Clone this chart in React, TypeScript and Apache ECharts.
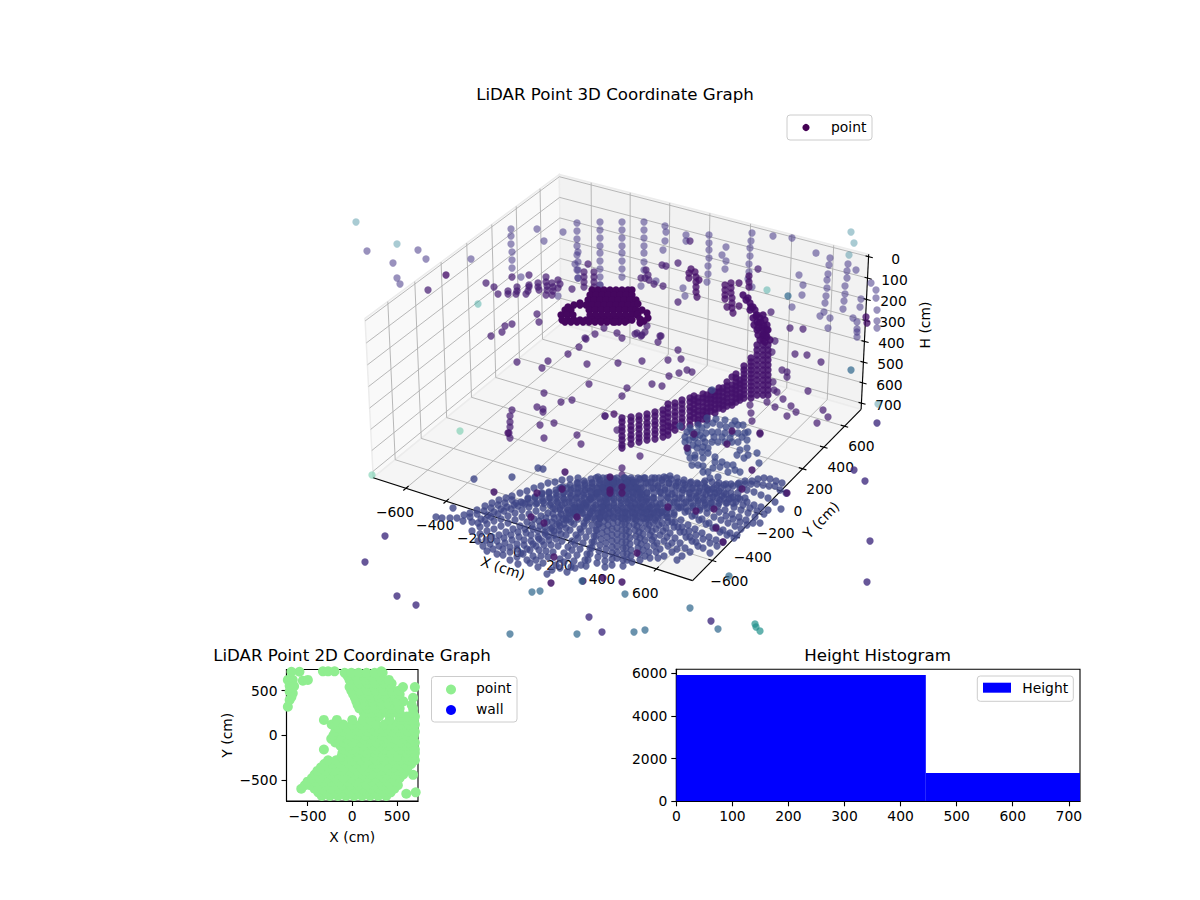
import { useEffect, useRef } from "react";
import * as echarts from "echarts";

// ticks of the 3D box
const xTicks = [-600, -400, -200, 0, 200, 400, 600];
const yTicks = [-600, -400, -200, 0, 200, 400, 600];
const hTicks = [0, 100, 200, 300, 400, 500, 600, 700];
const xLim = [-765, 765];
const yLim = [-765, 765];
const hLim = [-11, 730];

// 3D scatter: depth can't be recovered from the picture, so the points are
// kept as read on the view plane and go through the hidden viewX / viewY axes
const wallPoints = [
  [511, 229], [511, 236], [511, 244], [512, 252], [512, 260], [512, 268],
  [577, 223], [577, 231], [577, 239], [577, 246], [577, 255], [578, 262], [578, 270], [578, 278],
  [600, 222], [600, 230], [600, 238], [600, 246], [600, 253], [600, 261], [600, 269], [600, 277], [600, 285],
  [622, 222], [622, 230], [622, 238], [622, 246], [622, 253], [622, 261], [622, 269], [622, 277],
  [644, 222], [644, 230], [644, 238], [644, 246], [644, 253], [644, 262], [644, 270],
  [665, 226], [666, 232], [665, 241], [663, 250], [686, 235], [686, 241],
  [709, 235], [709, 243], [709, 250], [709, 258], [708, 266], [708, 274], [707, 282],
  [752, 233], [751, 241], [750, 248], [750, 256], [749, 264], [749, 272], [748, 279],
  [726, 247], [722, 255], [726, 261], [725, 269], [773, 236], [792, 238],
  [830, 258], [829, 265], [828, 274], [827, 280], [827, 288], [826, 296], [825, 303], [824, 312],
  [848, 264], [847, 271], [847, 278], [845, 286], [845, 294], [844, 301], [843, 309],
  [816, 253], [856, 270], [871, 283], [876, 290], [876, 298], [861, 299], [860, 307], [853, 318], [857, 322],
  [877, 310], [877, 321], [877, 328], [799, 275], [803, 285], [802, 295], [792, 307], [820, 316], [830, 318],
  [828, 328], [857, 329], [857, 332], [857, 337], [367, 251], [418, 250], [426, 259], [393, 263], [397, 278],
  [400, 284], [471, 259], [537, 229], [563, 232], [544, 241], [575, 264], [578, 252], [577, 270], [578, 278],
  [521, 277], [558, 296], [641, 286], [656, 281], [683, 288], [685, 296], [752, 287], [600, 285],
];
const midPoints = [
  [428, 290], [486, 283], [494, 287], [498, 294], [508, 291], [508, 294], [512, 277], [529, 275], [516, 294],
  [517, 287], [517, 291], [526, 294], [528, 291], [529, 285], [529, 287], [538, 283], [538, 287], [539, 290],
  [546, 277], [546, 282], [547, 286], [547, 290], [546, 295], [552, 283], [553, 287], [553, 291], [552, 295],
  [558, 280], [560, 284], [558, 288], [572, 289], [588, 264], [584, 272], [584, 277], [584, 282], [584, 287],
  [594, 272], [594, 277], [594, 282], [594, 287], [537, 314], [539, 322], [512, 324], [505, 326], [502, 332],
  [491, 336], [595, 334], [585, 338], [604, 328], [617, 333], [622, 338], [662, 265], [666, 266], [678, 263],
  [641, 278], [645, 278], [646, 270], [648, 275], [649, 280], [654, 284], [663, 286], [678, 302], [690, 241],
  [758, 269], [771, 312], [790, 328], [803, 329], [795, 354], [807, 355], [821, 362], [808, 391], [783, 399],
  [791, 406], [796, 412], [787, 416], [823, 410], [828, 417], [817, 423], [782, 370], [787, 372], [787, 377],
  [775, 341], [772, 352], [773, 382], [774, 390], [777, 392], [767, 402], [775, 407], [750, 405], [751, 413], [752, 421],
  [517, 362], [542, 368], [548, 361], [568, 354], [579, 347], [586, 339], [587, 364], [618, 363], [544, 393],
  [589, 384], [561, 402], [572, 400], [537, 407], [543, 409], [543, 412], [540, 425], [554, 423], [544, 438],
  [577, 435], [581, 444], [605, 416], [617, 430], [512, 410], [510, 416], [510, 422], [510, 427], [509, 433], [510, 438],
  [635, 334], [642, 335], [660, 336], [658, 342], [678, 350], [668, 360], [681, 359], [642, 361], [669, 376],
  [679, 373], [687, 370], [692, 372], [652, 384], [662, 386], [627, 388], [622, 396], [622, 468], [622, 475],
  [640, 456], [605, 416], [760, 434], [637, 333], [641, 336], [645, 332], [647, 326], [661, 336],
];
const darkStacks = [
  [691, 269], [689, 273], [689, 278], [695, 272], [696, 277], [696, 282], [696, 287], [696, 292], [697, 297], [699, 280],
  [725, 285], [725, 290], [725, 295], [725, 299], [731, 283], [731, 288], [731, 293], [732, 298], [732, 303], [732, 308],
  [733, 313], [727, 307], [739, 306], [739, 283], [749, 276], [749, 282], [749, 287], [446, 275], [866, 317], [867, 323],
  [614, 414], [671, 427], [508, 433],
];
const ribbonColumns: [number, number[]][] = [
  [622, [418, 422, 427, 431, 436, 440, 445, 448]],
  [631, [417, 421, 426, 430, 435, 439, 444]],
  [639, [416, 420, 425, 429, 434, 438, 442]],
  [647, [414, 418, 423, 427, 432, 436, 440]],
  [655, [412, 416, 421, 425, 430, 434, 439]],
  [663, [410, 414, 419, 423, 428, 432, 437]],
  [668, [404, 408, 413, 417, 422, 426, 431, 435]],
  [675, [403, 407, 412, 416, 421, 425, 430]],
  [682, [400, 404, 409, 413, 418, 422, 427]],
  [690, [398, 402, 407, 411, 416, 420, 425]],
  [694, [396, 400, 404, 409, 413, 418]],
  [698, [398, 402, 406, 411, 415, 420, 423]],
  [703, [394, 398, 402, 407, 411, 415, 419]],
  [707, [395, 399, 403, 408, 412, 416, 420]],
  [711, [391, 395, 399, 403, 407, 411]],
  [715, [392, 396, 400, 404, 409, 413]],
  [719, [388, 392, 396, 400, 404, 408]],
  [723, [388, 392, 397, 401, 405, 409]],
  [727, [382, 386, 390, 394, 398, 402, 406]],
  [732, [377, 385, 389, 393, 397, 402, 405]],
  [736, [374, 378, 382, 386, 390, 394, 398, 402]],
  [740, [380, 384, 388, 393, 397, 400]],
  [744, [366, 370, 374, 378, 382, 386, 390, 394, 398]],
  [751, [358, 362, 366, 370, 374, 378, 382, 386, 390, 394, 398]],
  [757, [345, 350, 355, 360, 365, 370, 375, 380, 385, 390, 395]],
  [763, [330, 335, 340, 345, 350, 355, 360, 365, 370, 375, 380, 385, 390, 395]],
  [768, [345, 350, 355, 360, 365, 370, 375, 380, 385, 390, 395]],
];
const ribbonTail = [
  [743, 295], [746, 300], [750, 303], [753, 307], [755, 310], [757, 315], [760, 318], [763, 315], [765, 320], [759, 323],
  [767, 325], [762, 328], [757, 330], [767, 330], [763, 335], [758, 335], [767, 337], [748, 298], [751, 307], [756, 316],
  [750, 310], [757, 322], [753, 318], [761, 322], [764, 326], [754, 325], [758, 328], [766, 335], [760, 340], [765, 342],
  [768, 330], [770, 340],
];
const blobRows: [number, number[]][] = [
  [290, [592, 598, 604, 610, 616, 622, 628, 632]],
  [295, [590, 596, 602, 608, 614, 620, 626, 632]],
  [300, [588, 594, 600, 606, 612, 618, 624, 630, 636]],
  [305, [574, 580, 586, 592, 598, 604, 610, 616, 622, 628, 634]],
  [310, [565, 571, 589, 595, 601, 607, 613, 619, 625, 631, 636]],
  [315, [561, 567, 573, 590, 596, 602, 608, 614, 620, 626, 632, 637]],
  [320, [562, 568, 574, 580, 586, 592, 598, 604, 610, 616, 622, 628, 632]],
  [322, [565, 571, 577, 583, 589, 595, 601, 607, 613, 619, 625]],
];
const blobExtras = [
  [638, 314], [642, 310], [647, 313], [648, 318], [644, 321], [640, 319], [640, 323], [638, 304], [615, 322], [580, 303], [568, 307],
];
const fanRays = [
  [[436, 517], [442, 518], [450, 518], [457, 518], [464, 515], [470, 513], [477, 510], [485, 506], [492, 503], [499, 500], [506, 498], [512, 496], [520, 493], [527, 491], [534, 488], [541, 486], [548, 483], [555, 482], [562, 480], [570, 479], [578, 478]],
  [[481, 519], [488, 515], [494, 512], [501, 509], [507, 507], [514, 505], [521, 502], [528, 499], [535, 497], [542, 494], [549, 492], [556, 490], [563, 487], [570, 485], [577, 483], [584, 481], [591, 479], [598, 477]],
  [[480, 527], [487, 524], [494, 521], [501, 519], [508, 516], [515, 513], [522, 510], [529, 507], [536, 504], [543, 501], [550, 498], [557, 496], [564, 493], [571, 490], [578, 488], [585, 485], [592, 483], [600, 480], [607, 478]],
  [[472, 531], [480, 534], [487, 531], [494, 529], [501, 526], [508, 523], [515, 520], [522, 517], [529, 514], [536, 511], [543, 508], [550, 505], [557, 502], [564, 499], [571, 496], [578, 493], [585, 490], [592, 487], [600, 484], [607, 482], [614, 479]],
  [[478, 541], [486, 540], [492, 537], [499, 535], [506, 532], [513, 529], [520, 526], [527, 522], [534, 519], [541, 516], [548, 513], [555, 509], [562, 505], [569, 502], [576, 498], [583, 495], [590, 491], [597, 488], [604, 485], [611, 482]],
  [[487, 551], [493, 549], [499, 546], [505, 543], [512, 540], [519, 537], [526, 533], [533, 529], [540, 526], [547, 522], [554, 518], [561, 514], [568, 510], [575, 505], [582, 501], [589, 497], [596, 493], [603, 488], [610, 485]],
  [[497, 554], [503, 555], [510, 552], [517, 549], [524, 545], [531, 541], [538, 537], [545, 532], [552, 528], [559, 523], [566, 518], [573, 513], [580, 508], [587, 503], [594, 497], [601, 492], [608, 487], [614, 483]],
  [[510, 560], [517, 557], [523, 554], [530, 550], [536, 546], [542, 541], [548, 536], [554, 531], [560, 526], [566, 520], [572, 515], [578, 510], [584, 504], [590, 499], [596, 494], [602, 489], [608, 484]],
  [[518, 564], [530, 563], [536, 560], [541, 556], [546, 551], [551, 545], [556, 539], [561, 534], [566, 528], [571, 522], [576, 516], [581, 510], [586, 505], [591, 499], [597, 493], [603, 488], [610, 483]],
  [[538, 567], [547, 574], [552, 570], [556, 565], [560, 559], [564, 553], [568, 547], [572, 541], [576, 535], [580, 529], [584, 523], [588, 517], [592, 511], [596, 505], [600, 499], [604, 493], [608, 488], [612, 483]],
  [[567, 572], [571, 567], [574, 561], [577, 555], [580, 549], [583, 543], [586, 537], [589, 531], [592, 525], [595, 519], [598, 513], [601, 507], [604, 501], [607, 495], [610, 489], [613, 484]],
  [[575, 568], [581, 565], [585, 560], [587, 554], [590, 548], [592, 542], [594, 536], [596, 530], [598, 524], [600, 518], [602, 512], [604, 506], [606, 500], [608, 494], [611, 488], [614, 482]],
  [[597, 563], [598, 557], [599, 551], [600, 545], [601, 539], [602, 533], [603, 527], [604, 521], [605, 515], [606, 509], [607, 503], [609, 497], [611, 491], [613, 485]],
  [[612, 565], [612, 559], [612, 553], [612, 547], [612, 541], [612, 535], [612, 529], [613, 523], [613, 517], [613, 511], [614, 505], [614, 499], [615, 493], [616, 487], [617, 481]],
  [[623, 566], [623, 560], [623, 554], [623, 548], [622, 542], [622, 536], [622, 530], [622, 524], [622, 518], [622, 512], [621, 506], [621, 500], [621, 494], [621, 488], [621, 482]],
  [[632, 562], [631, 556], [631, 550], [630, 544], [630, 538], [629, 532], [629, 526], [628, 520], [628, 514], [627, 508], [627, 502], [626, 496], [625, 490], [625, 484], [625, 478]],
  [[640, 560], [639, 554], [638, 548], [637, 542], [636, 536], [635, 530], [634, 524], [633, 518], [632, 512], [631, 506], [630, 500], [629, 494], [628, 488], [627, 482]],
  [[650, 558], [649, 552], [647, 546], [645, 540], [643, 534], [642, 528], [640, 522], [638, 516], [637, 510], [635, 504], [633, 498], [632, 492], [630, 486], [628, 480]],
  [[658, 558], [656, 552], [654, 546], [652, 540], [650, 535], [648, 529], [646, 523], [644, 518], [642, 512], [640, 506], [638, 500], [636, 494], [634, 488], [632, 482]],
  [[677, 560], [672, 552], [668, 546], [664, 541], [660, 535], [656, 529], [653, 523], [650, 517], [647, 511], [644, 505], [641, 499], [638, 493], [635, 487], [632, 480]],
  [[690, 552], [685, 548], [680, 543], [675, 538], [670, 533], [666, 528], [662, 523], [658, 518], [654, 513], [650, 507], [646, 501], [642, 495], [638, 489], [634, 483]],
  [[710, 553], [698, 546], [692, 541], [686, 537], [680, 532], [674, 527], [668, 522], [662, 516], [657, 511], [652, 505], [647, 499], [642, 494], [637, 488]],
  [[723, 542], [716, 540], [709, 537], [702, 533], [695, 529], [688, 525], [681, 520], [674, 515], [667, 510], [660, 504], [653, 498], [647, 493], [641, 488], [636, 482]],
  [[737, 535], [730, 533], [723, 530], [716, 527], [709, 523], [702, 519], [695, 515], [688, 511], [681, 507], [674, 502], [667, 497], [660, 492], [653, 488], [646, 483], [640, 479]],
  [[741, 529], [735, 526], [728, 523], [721, 520], [714, 517], [707, 513], [700, 510], [693, 506], [686, 502], [679, 498], [672, 494], [665, 490], [658, 486], [651, 482], [644, 478]],
  [[753, 523], [746, 520], [739, 517], [732, 514], [725, 510], [718, 506], [711, 503], [704, 500], [697, 496], [690, 493], [683, 490], [676, 486], [669, 483], [662, 480], [655, 478]],
  [[760, 523], [755, 517], [748, 513], [741, 510], [734, 507], [727, 503], [720, 500], [713, 497], [706, 494], [699, 491], [692, 488], [685, 485], [678, 482], [671, 479], [664, 477]],
  [[768, 510], [761, 507], [754, 505], [747, 502], [740, 499], [733, 497], [726, 494], [719, 491], [712, 489], [705, 487], [698, 484], [691, 482], [684, 480], [677, 478], [670, 476]],
  [[781, 509], [775, 502], [768, 498], [761, 495], [754, 492], [747, 490], [740, 488], [733, 486], [726, 484], [719, 483], [712, 482], [705, 481]],
  [[786, 493], [780, 490], [775, 486], [769, 486], [763, 485], [757, 484], [751, 484], [745, 484], [739, 483]],
  [[782, 483], [776, 481], [770, 479], [764, 478], [758, 479], [752, 481], [745, 481], [738, 484], [731, 484], [724, 485], [717, 485]],
  [[453, 508], [474, 479], [512, 477], [538, 468], [543, 469], [561, 488]],
];
// the rays between the ones above, only seen from the middle of the fan outward
const fanMidRays = [
  [[483, 546], [490, 544], [497, 541], [504, 538], [511, 535], [518, 532], [525, 529], [532, 525], [539, 521], [546, 518], [553, 514], [560, 510]],
  [[503, 549], [510, 547], [517, 544], [524, 540], [531, 535], [538, 531], [545, 527], [552, 522], [559, 517], [566, 513], [573, 508]],
  [[521, 553], [527, 549], [533, 544], [539, 539], [545, 534], [551, 529], [557, 524], [563, 519], [569, 513], [575, 508]],
  [[527, 560], [533, 556], [539, 550], [544, 545], [549, 540], [554, 535], [559, 530], [564, 524], [569, 519], [574, 513], [579, 507]],
  [[543, 563], [548, 557], [553, 552], [558, 546], [562, 541], [566, 535], [570, 530], [574, 524], [578, 519], [582, 513], [586, 507]],
  [[560, 568], [564, 562], [568, 556], [572, 550], [575, 544], [578, 538], [581, 532], [584, 526], [587, 520], [590, 514], [593, 508]],
  [[586, 566], [588, 560], [590, 554], [592, 548], [594, 542], [596, 536], [597, 530], [599, 524], [600, 518], [601, 512], [603, 506]],
  [[605, 567], [605, 561], [605, 555], [606, 549], [606, 543], [607, 537], [607, 531], [608, 525], [608, 519], [609, 513], [609, 507]],
  [[617, 558], [617, 552], [617, 546], [617, 540], [617, 534], [617, 528], [618, 522], [618, 516], [618, 510]],
  [[627, 560], [627, 554], [626, 548], [626, 542], [626, 536], [626, 530], [625, 524], [625, 518], [625, 512]],
  [[645, 556], [643, 550], [641, 544], [640, 538], [639, 532], [637, 526], [636, 520], [635, 514], [633, 508]],
  [[664, 556], [660, 549], [657, 543], [654, 537], [652, 531], [649, 525], [647, 519], [644, 513], [641, 507]],
  [[682, 556], [677, 549], [672, 543], [667, 537], [663, 531], [659, 525], [655, 520], [651, 514], [648, 509]],
  [[703, 548], [696, 542], [690, 537], [684, 532], [678, 527], [672, 522], [667, 517], [662, 512], [657, 507]],
  [[717, 546], [710, 543], [703, 539], [696, 535], [689, 531], [682, 527], [675, 522], [668, 517], [662, 512]],
  [[734, 538], [727, 535], [720, 532], [713, 528], [706, 524], [699, 520], [692, 516], [685, 512], [678, 507]],
  [[747, 525], [740, 522], [733, 519], [726, 516], [719, 512], [712, 508], [705, 505], [698, 501], [691, 498]],
  [[764, 514], [757, 511], [750, 508], [743, 505], [736, 502], [729, 499], [722, 496], [715, 493], [708, 490]],
  [[472, 522], [478, 523], [485, 520], [491, 517], [498, 514], [504, 511], [511, 509], [518, 506], [525, 504]],
  [[463, 521], [470, 517], [477, 514], [484, 511], [491, 508], [498, 505], [505, 503], [512, 500]],
];
const fanCrownRows: [number, number[]][] = [
  [478, [596, 603, 610, 617, 624, 631, 638, 645, 652, 659, 666]],
  [483, [578, 585, 592, 599, 606, 613, 620, 627, 634, 641, 648, 655, 662, 669, 676, 683, 690, 697, 704]],
  [488, [560, 567, 574, 581, 588, 595, 602, 609, 616, 623, 630, 637, 644, 651, 658, 665, 672, 679, 686, 693, 700, 707, 714, 721, 728]],
  [493, [542, 549, 556, 563, 570, 577, 584, 591, 598, 605, 612, 619, 626, 633, 640, 647, 654, 661, 668, 675, 682, 689, 696, 703, 710, 717, 724, 731, 738]],
  [498, [528, 535, 542, 549, 556, 563, 570, 577, 584, 591, 598, 605, 612, 619, 626, 633, 640, 647, 654, 661, 668, 675, 682, 689, 696, 703, 710, 717, 724, 731, 738, 745]],
  [503, [516, 523, 530, 537, 544, 551, 558, 565, 572, 579, 586, 593, 600, 607, 614, 621, 628, 635, 642, 649, 656, 663, 670, 677, 684, 691, 698, 705, 712, 719, 726, 733]],
  [508, [553, 560, 567, 574, 581, 588, 595, 602, 609, 616, 623, 630, 637, 644, 651, 658, 665, 672, 679, 686, 693, 700, 707]],
  [513, [576, 583, 590, 597, 604, 611, 618, 625, 632, 639, 646, 653, 660, 667, 674]],
  [518, [586, 593, 600, 607, 614, 621, 628, 635, 642, 649, 656]],
];
const coilPoints = [
  [685, 437], [687, 432], [692, 432], [697, 432], [702, 428], [707, 425], [713, 423], [720, 425], [726, 427], [732, 425], [738, 425], [743, 425],
  [685, 442], [689, 440], [695, 438], [700, 435], [706, 433], [712, 432], [718, 432], [725, 433], [732, 433], [738, 433], [745, 433], [748, 432],
  [688, 448], [693, 445], [698, 443], [705, 442], [712, 442], [718, 442], [725, 442], [732, 442], [738, 442], [747, 440],
  [688, 452], [695, 455], [702, 452], [708, 453], [715, 457], [697, 448], [703, 447],
  [740, 450], [747, 448], [748, 455], [744, 458], [737, 455], [757, 453], [759, 463],
  [692, 465], [698, 465], [703, 472], [708, 472], [713, 468], [715, 462], [722, 462], [727, 465], [733, 465], [740, 472],
  [728, 472], [710, 478], [718, 477], [690, 458], [695, 458], [680, 426], [712, 390], [690, 428], [698, 425], [707, 418],
  [716, 419], [725, 420], [735, 421], [693, 437], [703, 438], [714, 437], [722, 437], [730, 438], [742, 437], [708, 448],
  [703, 458], [720, 467], [735, 470], [703, 466],
];
const fanDarkPoints = [
  [565, 472], [494, 492], [562, 489], [537, 493], [531, 517], [544, 523], [577, 517], [554, 557], [610, 477], [622, 487],
  [610, 490], [610, 493], [622, 493], [668, 507], [696, 511], [714, 509], [716, 528], [723, 542], [637, 553], [551, 583],
  [583, 581], [603, 578], [622, 582], [742, 489], [787, 493], [694, 434], [732, 431], [687, 448], [727, 444], [760, 433], [752, 470],
];
const nearPoints = [
  [385, 536], [365, 562], [397, 596], [416, 605], [589, 617], [602, 632], [711, 621], [870, 541], [867, 582], [854, 470], [865, 481], [877, 423],
];
const bluePoints = [
  [532, 592], [540, 591], [510, 634], [577, 634], [582, 581], [625, 594], [690, 608], [718, 629], [634, 632], [645, 630], [729, 576], [851, 370], [788, 296],
];
const tealPoints = [[755, 624], [756, 627], [760, 631]];
const paleBluePoints = [[356, 222], [851, 232], [854, 243], [849, 255], [397, 244], [878, 404]];
const paleTealPoints = [[478, 304], [767, 290], [618, 295]];
const mintPoints = [[460, 431], [372, 475]];

// 2D scatter in cm, by row of Y
const floorRows: [number, number[]][] = [
  [-680, [-340, -250, -160, -70, 20, 110, 200, 290, 380]],
  [-640, [-380, -290, -200, -110, -20, 70, 160, 250, 340, 430]],
  [-600, [-570, -420, -330, -240, -150, -60, 30, 120, 210, 300, 390, 470]],
  [-560, [-530, -470, -380, -290, -200, -110, -20, 70, 160, 250, 340, 430, 510]],
  [-520, [-500, -410, -320, -230, -140, -50, 40, 130, 220, 310, 400, 490]],
  [-480, [-450, -370, -280, -190, -100, -10, 80, 170, 260, 350, 440, 530]],
  [-440, [-420, -330, -240, -150, -60, 30, 120, 210, 300, 390, 480, 570]],
  [-400, [-390, -300, -210, -120, -30, 60, 150, 240, 330, 420, 510, 600]],
  [-360, [-350, -260, -170, -80, 10, 100, 190, 280, 370, 460, 550, 620]],
  [-320, [-310, -220, -130, -40, 50, 140, 230, 320, 410, 500, 590, 660]],
  [-280, [-270, -180, -90, 0, 90, 180, 270, 360, 450, 540, 630, 700]],
  [-240, [-120, -30, 60, 150, 240, 330, 420, 510, 600, 690]],
  [-200, [-110, -20, 70, 160, 250, 340, 430, 520, 610, 700]],
  [-160, [-317, -90, 0, 90, 180, 270, 360, 450, 540, 630, 700]],
  [-120, [-130, -40, 50, 140, 230, 320, 410, 500, 590, 680]],
  [-80, [-190, -90, 0, 90, 180, 270, 360, 450, 540, 630, 700]],
  [-40, [-235, -145, -55, 35, 125, 215, 305, 395, 485, 575, 665]],
  [0, [-210, -120, -30, 60, 150, 240, 330, 420, 510, 600, 690]],
  [40, [-190, -100, -10, 80, 170, 260, 350, 440, 530, 620, 700]],
  [80, [-150, -60, 30, 120, 210, 300, 390, 480, 570, 660]],
  [120, [-230, -100, 0, 90, 180, 270, 360, 450, 540, 630, 700]],
  [172, [-317, -172, 0, 120, 200, 418, 530, 620, 690]],
  [210, [230, 300, 530, 610, 700]],
  [250, [130, 210, 305, 380, 450, 530, 680]],
  [300, [80, 170, 260, 350, 440, 530, 680]],
  [340, [60, 150, 240, 330, 420, 510, 664]],
  [380, [45, 135, 225, 315, 405, 495, 570]],
  [420, [30, 120, 210, 300, 390, 480, 680]],
  [460, [10, 100, 190, 280, 370, 460, 530]],
  [500, [-10, 80, 170, 260, 350, 440, 520]],
  [540, [-30, 60, 150, 240, 330, 430, 567, 700]],
  [580, [-10, 80, 170, 260, 350, 440]],
  [620, [-30, 60, 150, 240, 330, 410]],
  [660, [-50, 40, 130, 220, 310]],
  [700, [-85, -10, 70, 160, 250, 340]],
  [716, [-328, -270, -198, 325]],
];
const floorLeft = [
  [-720, 620], [-665, 620], [-700, 555], [-650, 550], [-700, 490], [-665, 470], [-700, 395], [-720, 320], [-552, 612],
  [-496, 620], [-590, 712], [-680, 712], [-740, 300], [-680, 430],
];
const floorRight = [[680, -444], [604, -656], [709, -640]];
const floorTicks = [-500, 0, 500];

// histogram of heights
const histEdges = [0, 445, 720];
const histCounts = [5920, 1327];
const histXTicks = [0, 100, 200, 300, 400, 500, 600, 700];
const histYTicks = [0, 2000, 4000, 6000];

const FONT = "DejaVu Sans";
const TICK_FONT = `13.89px "${FONT}"`;
const minus = (v: number | string) => String(v).replace("-", "\u2212");

const expand = (cols: [number, number[]][]) => cols.flatMap(([x, ys]) => ys.map((y) => [x, y]));
const expandRows = (rows: [number, number[]][]) => rows.flatMap(([y, xs]) => xs.map((x) => [x, y]));

// matplotlib camera, elev 30 azim -60, box 2:2:1
const HALF_XY = 0.6352;
const HALF_H = 0.3176;
function project(x: number, y: number, h: number) {
  const qx = (HALF_XY * (2 * (x - xLim[0]))) / (xLim[1] - xLim[0]) - HALF_XY;
  const qy = (HALF_XY * (2 * (y - yLim[0]))) / (yLim[1] - yLim[0]) - HALF_XY;
  const qz = HALF_H - (HALF_H * (2 * (h - hLim[0]))) / (hLim[1] - hLim[0]);
  const xv = 0.866 * qx + 0.5 * qy;
  const yv = -0.25 * qx + 0.433 * qy + 0.866 * qz;
  const depth = 10 - (0.433 * qx - 0.75 * qy + 0.5 * qz);
  return [622 + (2855 * xv) / depth, 365.5 - (2855 * yv) / depth];
}

const [x0, x1] = xLim;
const [y0, y1] = yLim;
const [hTop, hBottom] = hLim;

const panes = [
  { fill: "#f9f9f9", pts: [project(x0, y0, hBottom), project(x0, y1, hBottom), project(x0, y1, hTop), project(x0, y0, hTop)] },
  { fill: "#f2f2f2", pts: [project(x0, y1, hBottom), project(x1, y1, hBottom), project(x1, y1, hTop), project(x0, y1, hTop)] },
  { fill: "#f5f5f5", pts: [project(x0, y0, hBottom), project(x1, y0, hBottom), project(x1, y1, hBottom), project(x0, y1, hBottom)] },
];

const seg = (a: number[], b: number[]) => [a[0], a[1], b[0], b[1]];
const gridSegments = [
  ...xTicks.flatMap((t) => [seg(project(t, y0, hBottom), project(t, y1, hBottom)), seg(project(t, y1, hBottom), project(t, y1, hTop))]),
  ...yTicks.flatMap((t) => [seg(project(x1, t, hBottom), project(x0, t, hBottom)), seg(project(x0, t, hBottom), project(x0, t, hTop))]),
  ...hTicks.flatMap((t) => [seg(project(x0, y0, t), project(x0, y1, t)), seg(project(x0, y1, t), project(x1, y1, t))]),
];
const axisSegments = [
  seg(project(x0, y0, hBottom), project(x1, y0, hBottom)),
  seg(project(x1, y0, hBottom), project(x1, y1, hBottom)),
  seg(project(x1, y1, hBottom), project(x1, y1, hTop)),
  ...xTicks.map((t) => seg(project(t, y0 + 20, hBottom), project(t, y0 - 20, hBottom))),
  ...yTicks.map((t) => seg(project(x1 - 18, t, hBottom), project(x1 + 18, t, hBottom))),
  ...hTicks.map((t) => seg(project(x1 - 14, y1, t), project(x1 + 20, y1, t))),
];

const offset = (p: number[], dx: number, dy: number) => [p[0] + dx, p[1] + dy];
const boxTexts = [
  ...xTicks.map((t) => ({ at: offset(project(t, y0, hBottom), -11, 24), text: minus(t), rot: 0 })),
  ...yTicks.map((t) => ({ at: offset(project(x1, t, hBottom), 17, 20), text: minus(t), rot: 0 })),
  ...hTicks.map((t) => ({ at: offset(project(x1, y1, t), 27, 2), text: minus(t), rot: 0 })),
  { at: [503, 568], text: "X (cm)", rot: -0.32 },
  { at: [821, 520], text: "Y (cm)", rot: 0.8 },
  { at: [925, 325], text: "H (cm)", rot: Math.PI / 2 },
];

const VIEW = { xAxisIndex: 0, yAxisIndex: 0, coordinateSystem: "cartesian2d", silent: true };

function dots(data: number[][], fill: string, z = 3) {
  return {
    ...VIEW,
    type: "scatter",
    name: "point",
    data,
    z,
    clip: true,
    symbolSize: 7.3,
    itemStyle: { color: fill, borderWidth: 0, opacity: 1 },
  };
}

function buildOption() {
  const lineSeries = (rows: number[][], stroke: string, lineWidth: number, z: number) => ({
    ...VIEW,
    type: "custom",
    z,
    data: rows,
    renderItem: (_: unknown, api: any) => {
      const a = api.coord([api.value(0), api.value(1)]);
      const b = api.coord([api.value(2), api.value(3)]);
      return { type: "line", shape: { x1: a[0], y1: a[1], x2: b[0], y2: b[1] }, style: { stroke, lineWidth, fill: "none" } };
    },
  });

  const frame = { show: true, borderColor: "#000", borderWidth: 1.1, containLabel: false };
  const cm = { color: "#000", fontFamily: FONT, fontSize: 13.89 };
  const titleStyle = { fontFamily: FONT, fontSize: 16.67, fontWeight: "normal", color: "#000" };

  const legendBox = (x: number, y: number, width: number, height: number) => ({
    type: "rect",
    shape: { x, y, width, height, r: 3 },
    style: { fill: "rgba(255,255,255,0.8)", stroke: "#ccc", lineWidth: 1 },
    z: 50,
  });
  const legendText = (x: number, y: number, text: string) => ({
    type: "text",
    x,
    y,
    style: { text, font: TICK_FONT, fill: "#000", align: "left", verticalAlign: "middle" },
    z: 51,
  });
  const legendDot = (cx: number, cy: number, r: number, fill: string) => ({
    type: "circle",
    shape: { cx, cy, r },
    style: { fill },
    z: 51,
  });

  return {
    animation: false,
    textStyle: { fontFamily: FONT },
    title: [
      { text: "LiDAR Point 3D Coordinate Graph", left: 615, top: 86, textAlign: "center", padding: 0, textStyle: titleStyle },
      { text: "LiDAR Point 2D Coordinate Graph", left: 352, top: 647, textAlign: "center", padding: 0, textStyle: titleStyle },
      { text: "Height Histogram", left: 877.5, top: 647, textAlign: "center", padding: 0, textStyle: titleStyle },
    ],
    grid: [
      { left: 0, top: 0, width: 1200, height: 636 },
      { left: 286.5, top: 669.5, width: 131.5, height: 131.5, ...frame },
      { left: 676.3, top: 669.3, width: 403.7, height: 132, ...frame },
    ],
    xAxis: [
      { gridIndex: 0, type: "value", name: "viewX", min: 0, max: 1200, show: false },
      {
        gridIndex: 1,
        type: "value",
        min: -735,
        max: 735,
        name: "X (cm)",
        nameLocation: "middle",
        nameGap: 29,
        nameTextStyle: cm,
        splitLine: { show: false },
        axisLine: { onZero: false, lineStyle: { color: "#000", width: 1.1 } },
        axisTick: { length: 5, customValues: floorTicks, lineStyle: { color: "#000", width: 1.1 } },
        axisLabel: { ...cm, margin: 8, customValues: floorTicks, formatter: (v: number) => minus(v) },
      },
      {
        gridIndex: 2,
        type: "value",
        min: histEdges[0],
        max: histEdges[2],
        splitLine: { show: false },
        axisLine: { onZero: false, lineStyle: { color: "#000", width: 1.1 } },
        axisTick: { length: 5, customValues: histXTicks, lineStyle: { color: "#000", width: 1.1 } },
        axisLabel: { ...cm, margin: 8, customValues: histXTicks, formatter: (v: number) => String(v) },
      },
    ],
    yAxis: [
      { gridIndex: 0, type: "value", name: "viewY", min: 0, max: 636, inverse: true, show: false },
      {
        gridIndex: 1,
        type: "value",
        min: -737,
        max: 737,
        name: "Y (cm)",
        nameLocation: "middle",
        nameGap: 53,
        nameTextStyle: cm,
        splitLine: { show: false },
        axisLine: { onZero: false, lineStyle: { color: "#000", width: 1.1 } },
        axisTick: { length: 5, customValues: floorTicks, lineStyle: { color: "#000", width: 1.1 } },
        axisLabel: { ...cm, margin: 9, customValues: floorTicks, formatter: (v: number) => minus(v) },
      },
      {
        gridIndex: 2,
        type: "value",
        min: 0,
        max: 6187,
        splitLine: { show: false },
        axisLine: { onZero: false, lineStyle: { color: "#000", width: 1.1 } },
        axisTick: { length: 5, customValues: histYTicks, lineStyle: { color: "#000", width: 1.1 } },
        axisLabel: { ...cm, margin: 9, customValues: histYTicks, formatter: (v: number) => String(v) },
      },
    ],
    graphic: [
      legendBox(787, 115, 85, 25),
      legendDot(806, 127.5, 3.6, "#440154"),
      legendText(831, 127, "point"),
      legendBox(431.5, 676.5, 85.5, 45.5),
      legendDot(451, 689.5, 5, "#90ee90"),
      legendDot(451, 710, 5, "#0000ff"),
      legendText(476, 688, "point"),
      legendText(476, 708.5, "wall"),
      legendBox(977.3, 676, 96, 25.3),
      { type: "rect", shape: { x: 983, y: 682.7, width: 28, height: 10 }, style: { fill: "#0000ff" }, z: 51 },
      legendText(1022.3, 688, "Height"),
    ],
    series: [
      {
        ...VIEW,
        type: "custom",
        z: 1,
        data: panes.map((_, i) => [i]),
        encode: { x: 0 },
        renderItem: (params: any, api: any) => {
          const pane = panes[params.dataIndex];
          return {
            type: "polygon",
            shape: { points: pane.pts.map((p) => api.coord(p)) },
            style: { fill: pane.fill, stroke: "#ececec", lineWidth: 1.5 },
          };
        },
      },
      lineSeries(gridSegments, "#b0b0b0", 0.9, 1),
      lineSeries(axisSegments, "#000", 1.1, 2),
      {
        ...VIEW,
        type: "custom",
        z: 2,
        data: boxTexts.map((_, i) => [i]),
        encode: { x: 0 },
        renderItem: (params: any, api: any) => {
          const t = boxTexts[params.dataIndex];
          const p = api.coord(t.at);
          return {
            type: "text",
            x: p[0],
            y: p[1],
            rotation: t.rot,
            style: { text: t.text, font: TICK_FONT, fill: "#000", align: "center", verticalAlign: "middle" },
          };
        },
      },
      dots(mintPoints, "rgba(60,185,140,0.42)"),
      dots(paleTealPoints, "rgba(40,160,150,0.42)"),
      dots(paleBluePoints, "rgba(50,130,150,0.42)"),
      dots(wallPoints, "rgba(70,55,135,0.55)"),
      dots(midPoints, "rgba(72,30,115,0.72)"),
      dots(darkStacks, "rgba(70,15,105,0.78)"),
      dots(expand(ribbonColumns), "rgba(68,18,108,0.88)"),
      dots(ribbonTail, "rgba(68,12,105,0.9)"),
      dots([...expandRows(blobRows), ...blobExtras], "#45075f"),
      dots(coilPoints, "rgba(62,73,137,0.78)"),
      dots([...fanRays.flat(), ...fanMidRays.flat(), ...expandRows(fanCrownRows)], "rgba(62,70,135,0.8)"),
      dots(fanDarkPoints, "rgba(72,26,108,0.88)"),
      dots(nearPoints, "rgba(70,50,130,0.82)"),
      dots(bluePoints, "rgba(49,104,142,0.72)"),
      dots(tealPoints, "rgba(33,145,140,0.7)"),
      {
        type: "scatter",
        name: "point",
        xAxisIndex: 1,
        yAxisIndex: 1,
        data: [...expandRows(floorRows), ...floorLeft, ...floorRight],
        silent: true,
        clip: true,
        symbolSize: 10,
        itemStyle: { color: "#90ee90", opacity: 1 },
      },
      {
        type: "custom",
        name: "Height",
        xAxisIndex: 2,
        yAxisIndex: 2,
        coordinateSystem: "cartesian2d",
        silent: true,
        clip: true,
        data: histCounts.map((c, i) => [histEdges[i], histEdges[i + 1], c]),
        encode: { x: [0, 1], y: 2 },
        renderItem: (_: unknown, api: any) => {
          const a = api.coord([api.value(0), api.value(2)]);
          const b = api.coord([api.value(1), 0]);
          return {
            type: "rect",
            shape: { x: a[0], y: a[1], width: b[0] - a[0], height: b[1] - a[1] },
            style: { fill: "#0000ff" },
          };
        },
      },
    ],
  };
}

export default function App() {
  const ref = useRef<HTMLDivElement>(null);

  useEffect(() => {
    if (!ref.current) return;
    const chart = echarts.init(ref.current, undefined, { renderer: "svg" });
    chart.setOption(buildOption() as any);
    return () => chart.dispose();
  }, []);

  return <div ref={ref} style={{ position: "absolute", left: 0, top: 0, width: 1200, height: 900, background: "#fff" }} />;
}
